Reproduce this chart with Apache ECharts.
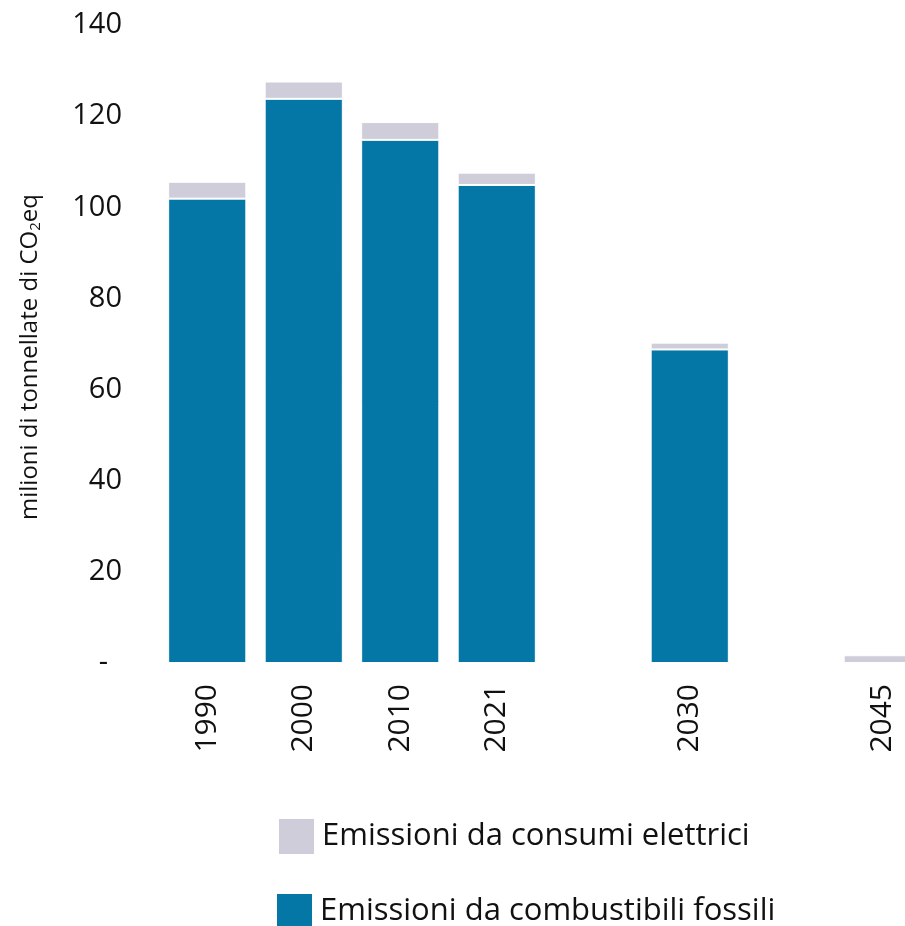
<!DOCTYPE html>
<html>
<head>
<meta charset="utf-8">
<script src="https://cdn.jsdelivr.net/npm/echarts@6/dist/echarts.min.js"></script>
<style>
  html, body { margin: 0; padding: 0; background: #ffffff; }
  #chart { width: 905px; height: 926px; }
</style>
</head>
<body>
<div id="chart"></div>
<script>
// Years on the category axis; empty slots keep the spacing before 2030 and 2045
const years = ['1990', '2000', '2010', '2021', '', '2030', '', '2045'];
// Emissions from fossil fuels (million t CO2eq)
const fossil = [101.9, 123.8, 114.8, 104.9, null, 68.8, null, 0];
// Emissions from electricity consumption (million t CO2eq)
const electric = [3.7, 3.8, 3.9, 2.7, null, 1.5, null, 1.7];
// Value-axis ticks
const yTicks = { min: 0, max: 140, interval: 20 };

const FONT = 'Open Sans';
const BLUE = '#0477a6';
const GREY = '#cecdd9';
const ELEC = 'Emissioni da consumi elettrici';
const FOSS = 'Emissioni da combustibili fossili';

const legendBase = {
  orient: 'vertical',
  padding: 0,
  itemWidth: 37,
  itemHeight: 37,
  itemGap: 0,
  icon: 'rect',
  textStyle: { fontFamily: FONT, fontSize: 31, color: '#111', padding: [0, 0, 0, 2] }
};

const chart = echarts.init(document.getElementById('chart'), null, { renderer: 'canvas' });

chart.setOption({
  animation: false,
  textStyle: { fontFamily: FONT },
  grid: {
    left: 159, top: 25, width: 772, height: 638,
    containLabel: false,
    outerBoundsMode: 'none'
  },
  legend: [
    Object.assign({}, legendBase, { left: 277, top: 817, data: [ELEC] }),
    Object.assign({}, legendBase, { left: 275, top: 892, data: [FOSS] })
  ],
  xAxis: {
    type: 'category',
    data: years,
    axisLine: { show: false },
    axisTick: { show: false },
    axisLabel: {
      rotate: 90,
      margin: 21,
      interval: 0,
      fontSize: 30,
      color: '#111',
      fontFamily: FONT
    }
  },
  yAxis: {
    type: 'value',
    min: yTicks.min,
    max: yTicks.max,
    interval: yTicks.interval,
    splitLine: { show: false },
    axisLine: { show: false },
    axisTick: { show: false },
    axisLabel: {
      margin: 37,
      fontSize: 29,
      color: '#111',
      fontFamily: FONT,
      formatter: v => (v === 0 ? '{d|-}' : String(v)),
      rich: { d: { fontSize: 29, color: '#111', fontFamily: FONT, padding: [0, 14, 0, 0] } }
    },
    name: 'milioni di tonnellate di CO{sub|2}eq',
    nameLocation: 'middle',
    nameGap: 116,
    nameRotate: 90,
    nameTextStyle: {
      fontFamily: FONT,
      fontSize: 24,
      color: '#111',
      padding: [0, 26, 0, 0],
      rich: {
        sub: { fontSize: 15, fontFamily: FONT, color: '#111', verticalAlign: 'bottom', padding: [11, 0, 0, 0] }
      }
    }
  },
  series: [
    {
      name: FOSS,
      type: 'bar',
      stack: 'tot',
      data: fossil,
      barCategoryGap: '19%',
      itemStyle: { color: BLUE, borderColor: '#ffffff', borderWidth: 1 }
    },
    {
      name: ELEC,
      type: 'bar',
      stack: 'tot',
      data: electric,
      itemStyle: { color: GREY, borderColor: '#ffffff', borderWidth: 1 }
    }
  ]
});
</script>
</body>
</html>
